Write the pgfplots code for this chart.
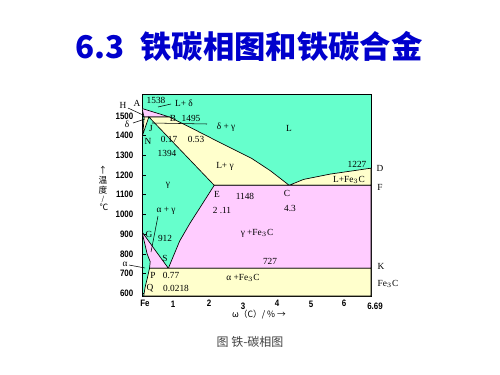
\documentclass[border=0pt]{standalone}
\usepackage{pgfplots}
\pgfplotsset{compat=1.18}
\usepackage{fontspec}
\setmainfont{Liberation Serif}
\newfontfamily\tickfont[FakeStretch=0.85]{Liberation Sans}
\newfontfamily\cjk{Noto Sans CJK SC}
\definecolor{pg}{RGB}{102,255,204}
\definecolor{pk}{RGB}{255,204,255}
\definecolor{yl}{RGB}{255,255,204}
\definecolor{tb}{RGB}{0,0,204}
\begin{document}
\begin{tikzpicture}
\useasboundingbox (0,0) rectangle (375pt,-281.25pt);
\begin{axis}[
  scale only axis, width=171.75pt, height=151.125pt,
  at={(106.5pt,-222pt)}, anchor=south west,
  xmin=0, xmax=6.69, ymin=586, ymax=1609,
  axis background/.style={fill=pg},
  xtick={0,0.5,...,6.5}, xticklabels={},
  ytick={600,700,...,1500},
  tick align=inside, xtick pos=bottom, ytick pos=left,
  major tick length=3pt,
  tick style={black, line width=0.5pt},
  axis line style={black, line width=0.6pt},
  yticklabel style={font=\tickfont\bfseries\fontsize{7}{7}\selectfont, xshift=-3pt},
  /pgf/number format/1000 sep={},
  /pgf/number format/assume math mode=true,
]
% L+delta
\addplot[fill=pk, draw=black, line width=0.5pt] coordinates {(0,1538)(0.8,1495)(0.06,1495)} --cycle;
% delta+gamma
\addplot[fill=yl, draw=black, line width=0.5pt] coordinates {(0.06,1495)(0.2,1495)(0,1394)(0.04,1440)} --cycle;
% L+gamma
\addplot[fill=yl, draw=black, line width=0.5pt] coordinates {(0.2,1495)(0.8,1495)(1.6,1425)(2.3,1363)(3.2,1285)(3.75,1222)(4.3,1148)(2.11,1148)} --cycle;
% L+Fe3C
\addplot[fill=yl, draw=black, line width=0.5pt] coordinates {(4.3,1148)(4.72,1178)(5.5,1205)(6.69,1235)(6.69,1148)} --cycle;
% gamma+Fe3C
\addplot[fill=pk, draw=black, line width=0.5pt] coordinates {(2.11,1148)(6.69,1148)(6.69,727)(0.77,727)(1.1,865)(1.4,955)(1.64,1020)} --cycle;
% alpha+gamma
\addplot[fill=pk, draw=black, line width=0.5pt] coordinates {(0,912)(0.4,815)(0.77,727)(0.22,727)(0.24,760)(0.15,800)(0.07,860)} --cycle;
% alpha+Fe3C
\addplot[fill=yl, draw=black, line width=0.5pt] coordinates {(0.22,727)(6.69,727)(6.69,586)(0.05,586)(0.09,630)(0.16,680)} --cycle;
\end{axis}
\begin{scope}[x=0.75pt,y=-0.75pt]
% title
\node[font=\cjk\bfseries\fontsize{23.5}{23.5}\selectfont, text=tb] at (249,47) {6.3\hspace{0.5em}铁碳相图和铁碳合金};
% caption
\node[font=\cjk\fontsize{9}{9}\selectfont, text=black!75] at (250,342) {图 铁-碳相图};
% x label
\node[font=\cjk\fontsize{6.5}{6.5}\selectfont] at (259,315) {ω（C）/ \% →};
% y label stacked
\begin{scope}[every node/.style={font=\cjk\fontsize{6.5}{6.5}\selectfont, inner sep=0pt}]
\node at (103,170) {↑};
\node at (103,180) {温};
\node at (103,190) {度};
\node[font=\cjk\fontsize{5}{5}\selectfont] at (103,199) {/};
\node at (104,207) {℃};
\end{scope}
% x tick labels
\begin{scope}[every node/.style={font=\tickfont\bfseries\fontsize{7}{7}\selectfont, inner sep=0pt}]
\node at (145,303) {Fe};
\node at (173,304) {1};
\node at (209,303) {2};
\node at (243,306) {3};
\node at (277,303) {4};
\node at (311,304) {5};
\node at (344,303) {6};
\node at (375,306) {6.69};
\end{scope}
% leader lines
\begin{scope}[line width=0.4pt]
\draw (128,108) -- (143,115);
\draw (133,123) -- (145,119);
\draw (158,107) -- (171,104);
\draw (152,123) -- (207,124);
\draw (158,216) -- (151,252);
\draw (129,265) -- (145,268);
\end{scope}
% labels
\begin{scope}[every node/.style={font=\fontsize{7}{7}\selectfont, inner sep=0pt}]
\node at (123,105) {H};
\node at (137,103) {A};
\node at (127,124) {δ};
\node at (125,264) {α};
\node at (156,100) {1538};
\node at (184,103) {L+ δ};
\node at (173,118) {B};
\node at (191,118) {1495};
\node at (151,128) {J};
\node at (226,127) {δ + γ};
\node at (289,128) {L};
\node at (148,141) {N};
\node at (169,139) {0.17};
\node at (196,139) {0.53};
\node at (167,153) {1394};
\node at (225,166) {L+ γ};
\node at (168,185) {γ};
\node at (357,164) {1227};
\node at (380,168) {D};
\node at (349,180) {L+Fe$_3$C};
\node at (380,187) {F};
\node at (217,194) {E};
\node at (245,196) {1148};
\node at (287,193) {C};
\node at (290,208) {4.3};
\node at (222,210) {2 .11};
\node at (166,211) {α + γ};
\node at (149,234) {G};
\node at (165,238) {912};
\node at (257,233) {γ +Fe$_3$C};
\node at (165,258) {S};
\node at (270,261) {727};
\node at (381,266) {K};
\node at (153,275) {P};
\node at (171,275) {0.77};
\node at (243,278) {α +Fe$_3$C};
\node at (150,288) {Q};
\node at (176,288) {0.0218};
\node at (388,284) {Fe$_3$C};
\end{scope}
\end{scope}
\end{tikzpicture}
\end{document}
